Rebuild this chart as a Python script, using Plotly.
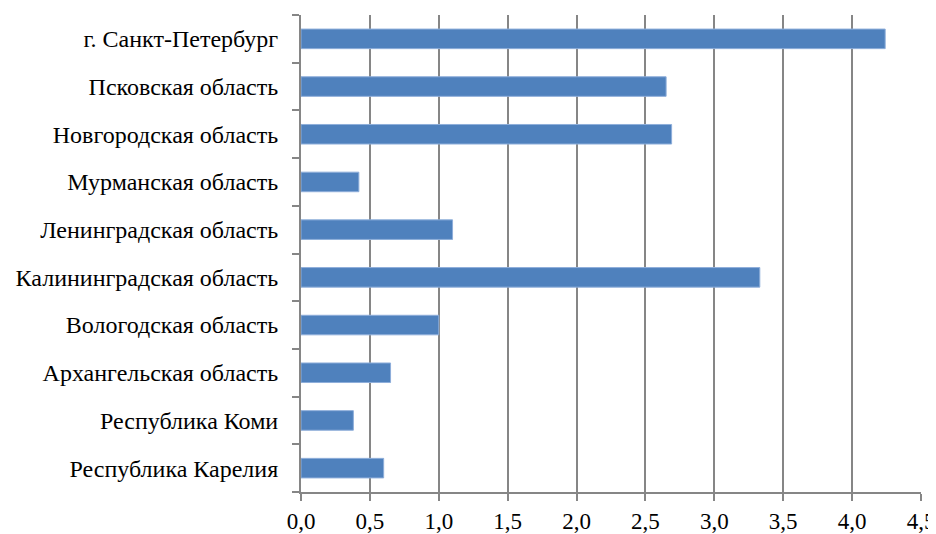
import plotly.graph_objects as go

regions = [
    "Республика Карелия",
    "Республика Коми",
    "Архангельская область",
    "Вологодская область",
    "Калининградская область",
    "Ленинградская область",
    "Мурманская область",
    "Новгородская область",
    "Псковская область",
    "г. Санкт-Петербург",
]
values = [0.60, 0.38, 0.65, 1.00, 3.33, 1.10, 0.42, 2.69, 2.65, 4.24]
x_ticks = [0, 0.5, 1.0, 1.5, 2.0, 2.5, 3.0, 3.5, 4.0, 4.5]

FONT = "Liberation Serif"

fig = go.Figure(go.Bar(
    x=values, y=regions, orientation="h",
    marker=dict(color="#4F81BD", line=dict(color="#8EAEDA", width=1)),
))

fig.update_layout(
    width=936, height=534, autosize=False,
    margin=dict(l=293, r=23, t=7, b=50),
    paper_bgcolor="white", plot_bgcolor="white",
    separators=", ",
    bargap=0.59,
    showlegend=False,
    font=dict(family=FONT, size=24, color="black"),
)
fig.update_xaxes(
    range=[0, 4.5], tickvals=x_ticks, tickformat=".1f",
    showgrid=True, gridcolor="#868686", gridwidth=2,
    showline=True, linecolor="#868686", linewidth=2,
    ticks="outside", ticklen=7, tickcolor="#868686", tickwidth=2,
    zeroline=False, tickfont=dict(family=FONT, size=23, color="black"),
    automargin=False,
)
fig.update_yaxes(
    type="category", tickson="boundaries",
    showgrid=False,
    showline=True, linecolor="#868686", linewidth=2,
    ticks="outside", ticklen=7, tickcolor="#868686", tickwidth=2,
    tickfont=dict(family=FONT, size=24, color="black"),
    automargin=False, ticklabelstandoff=16,
)

fig.write_html("out.html")
